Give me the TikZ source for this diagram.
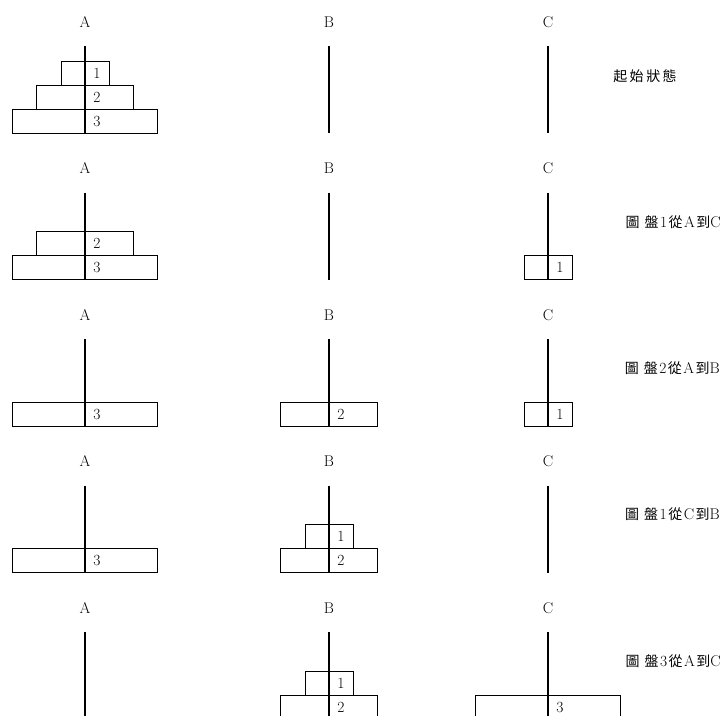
\documentclass[tikz,border=0pt]{standalone}
\usepackage{fontspec}
\newfontfamily\cjk{Noto Sans CJK TC}[Scale=1.0]
\newcommand\mydisk[5]{% name, peg x, row, level, disk number
  \pgfmathsetmacro\dkY{133+146.5*#3-24*#4}
  \pgfmathsetmacro\dkW{(#5==1)?24:((#5==2)?48.5:72.5)}
  \draw[diskbox] (#2-\dkW,\dkY-24) rectangle (#2+\dkW,\dkY);
  \node[num] (#1) at (#2+12,\dkY-12) {#5};
}
\newcommand\gp{\hspace{1.5pt}}
\begin{document}
\begin{tikzpicture}[x=1pt,y=-1pt,
  pegline/.style={line width=1.1pt},
  diskbox/.style={draw, line width=1.0pt},
  lbl/.style={font=\fontsize{15.5}{18}\selectfont, inner sep=0pt},
  num/.style={font=\fontsize{15.5}{18}\selectfont, inner sep=0pt},
  captext/.style={font=\fontsize{15.5}{18}\selectfont, inner sep=0pt, anchor=east}]
\useasboundingbox (0,0) rectangle (723,715);
\clip (0,0) rectangle (723,715);
% labels and pegs
\foreach \r in {0,...,4}{
  \node[lbl] (la\r) at (85,22+146.5*\r) {A};
  \node[lbl] (lb\r) at (329,22+146.5*\r) {B};
  \node[lbl] (lc\r) at (548,22+146.5*\r) {C};
  \draw[pegline] (85,46+146.5*\r) -- (85,133+146.5*\r);
  \draw[pegline] (329,46+146.5*\r) -- (329,133+146.5*\r);
  \draw[pegline] (548,46+146.5*\r) -- (548,133+146.5*\r);
}
% row 0
\mydisk{r0a3}{85}{0}{0}{3}
\mydisk{r0a2}{85}{0}{1}{2}
\mydisk{r0a1}{85}{0}{2}{1}
\node[font=\fontsize{14}{18}\selectfont, inner sep=0pt] (cap0) at (645,76) {\cjk 起\hspace{2.5pt}始\hspace{2.5pt}狀\hspace{2.5pt}態};
% row 1
\mydisk{r1a3}{85}{1}{0}{3}
\mydisk{r1a2}{85}{1}{1}{2}
\mydisk{r1c1}{548}{1}{0}{1}
\node[captext] (cap1) at (721,222) {{\cjk\fontsize{14}{18}\selectfont 圖\hspace{5pt}盤}\gp1\gp{\cjk\fontsize{14}{18}\selectfont 從}\gp A\gp{\cjk\fontsize{14}{18}\selectfont 到}C};
% row 2
\mydisk{r2a3}{85}{2}{0}{3}
\mydisk{r2b2}{329}{2}{0}{2}
\mydisk{r2c1}{548}{2}{0}{1}
\node[captext] (cap2) at (720,368) {{\cjk\fontsize{14}{18}\selectfont 圖\hspace{5pt}盤}\gp2\gp{\cjk\fontsize{14}{18}\selectfont 從}\gp A\gp{\cjk\fontsize{14}{18}\selectfont 到}B};
% row 3
\mydisk{r3a3}{85}{3}{0}{3}
\mydisk{r3b2}{329}{3}{0}{2}
\mydisk{r3b1}{329}{3}{1}{1}
\node[captext] (cap3) at (720,514) {{\cjk\fontsize{14}{18}\selectfont 圖\hspace{5pt}盤}\gp1\gp{\cjk\fontsize{14}{18}\selectfont 從}\gp C\gp{\cjk\fontsize{14}{18}\selectfont 到}B};
% row 4
\mydisk{r4b2}{329}{4}{0}{2}
\mydisk{r4b1}{329}{4}{1}{1}
\mydisk{r4c3}{548}{4}{0}{3}
\node[captext] (cap4) at (721,661) {{\cjk\fontsize{14}{18}\selectfont 圖\hspace{5pt}盤}\gp3\gp{\cjk\fontsize{14}{18}\selectfont 從}\gp A\gp{\cjk\fontsize{14}{18}\selectfont 到}C};
\end{tikzpicture}
\end{document}
